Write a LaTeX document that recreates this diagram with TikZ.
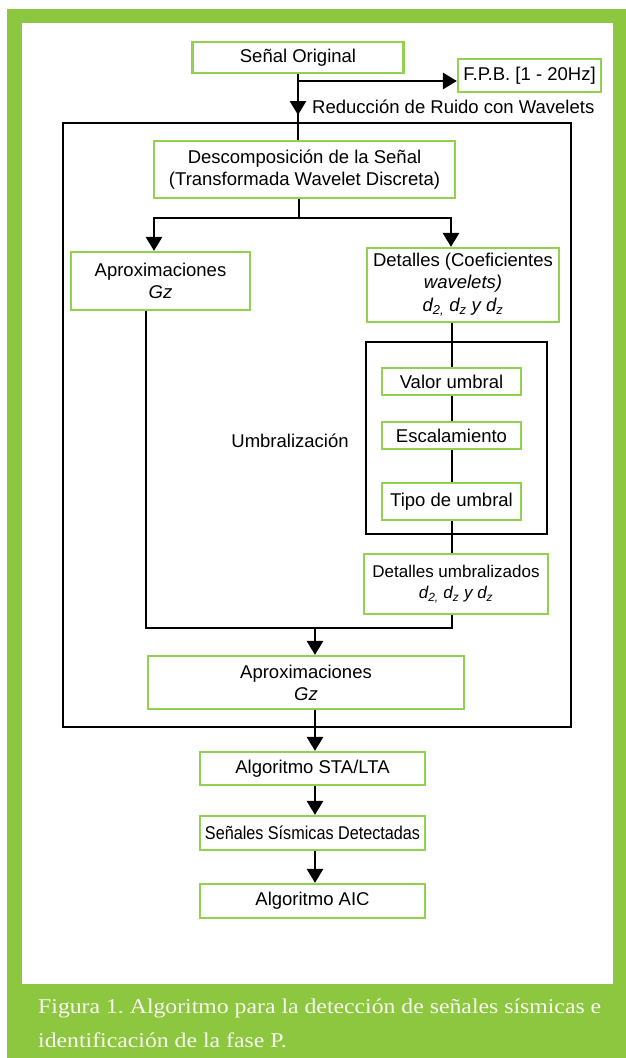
\documentclass[tikz,border=0pt]{standalone}
\usepackage{fontspec}
\setmainfont{Liberation Serif}
\setsansfont{Liberation Sans}
\usetikzlibrary{arrows.meta}
\definecolor{framegreen}{RGB}{141,198,63}
\definecolor{boxgreen}{RGB}{146,208,80}
\definecolor{captext}{RGB}{248,251,242}
\pgfdeclarelayer{framelayer}
\pgfdeclarelayer{linelayer}
\pgfsetlayers{framelayer,linelayer,main}
\newcommand\dfont{\sffamily\fontsize{18.5}{22}\selectfont}
\newcommand\sfont{\sffamily\fontsize{17}{21}\selectfont}
\newcommand\capfont{\rmfamily\fontsize{21}{25}\selectfont}
\newsavebox\capA
\newsavebox\capB
\newlength\capwd
\frenchspacing
\begin{document}
\sbox\capA{\color{captext}\capfont Figura 1. Algoritmo para la detección de señales sísmicas e}%
\sbox\capB{\color{captext}\capfont identificación de la fase P.}%
\setlength\capwd{\wd\capA}%
\pgfmathsetmacro\capsx{563/\capwd}%
\begin{tikzpicture}[x=1pt,y=-1pt,
  gbox/.style={draw=boxgreen, line width=2.2pt, fill=white, inner sep=0pt, align=center, font=\dfont},
  blackbox/.style={draw=black, line width=2.8pt, inner sep=0pt},
  conn/.style={draw=black, line width=2.8pt},
  arr/.style={conn, -{Triangle[width=16pt,length=14pt]}},
  lbl/.style={inner sep=0pt, font=\dfont}]
\useasboundingbox (0,0) rectangle (626,1058);
\begin{pgfonlayer}{framelayer}
  \fill[framegreen] (7,9) rectangle (626,1058);
  \fill[white] (22,23) rectangle (613,984);
\end{pgfonlayer}

% nodes
\node[gbox, minimum width=211pt, minimum height=31pt] (sig) at (298,57.5) {Señal Original};
\node[gbox, minimum width=143pt, minimum height=33pt] (fpb) at (529.5,75.5) {F.P.B. [1 - 20Hz]};
\node[lbl, anchor=base west] (red) at (312,113) {Reducción de Ruido con Wavelets};
\node[blackbox, minimum width=508pt, minimum height=604pt] (outer) at (317,425) {};
\node[gbox, minimum width=301pt, minimum height=57pt] (desc) at (304.5,169.5) {Descomposición de la Señal\\(Transformada Wavelet Discreta)};
\node[gbox, minimum width=179pt, minimum height=58pt] (apx1) at (160.5,281) {Aproximaciones\\\textit{Gz}};
\node[gbox, minimum width=192pt, minimum height=74pt] (det) at (463,285) {Detalles (Coeficientes\\\textit{wavelets)}\\[1pt]\textit{d\textsubscript{2,} d\textsubscript{z} y d\textsubscript{z}}};
\node[blackbox, minimum width=181pt, minimum height=192pt] (umb) at (456.5,438) {};
\node[lbl] (umblbl) at (290,441) {Umbralización};
\node[gbox, minimum width=139pt, minimum height=27pt] (val) at (451.5,381.5) {Valor umbral};
\node[gbox, minimum width=139pt, minimum height=27pt] (esc) at (451.5,435.5) {Escalamiento};
\node[gbox, minimum width=139pt, minimum height=37pt] (tipo) at (451.5,501.5) {Tipo de umbral};
\node[gbox, minimum width=184pt, minimum height=60pt, font=\sfont] (detu) at (456,584) {Detalles umbralizados\\\textit{d\textsubscript{2,} d\textsubscript{z} y d\textsubscript{z}}};
\node[gbox, minimum width=316pt, minimum height=53pt] (apx2) at (306,682.5) {Aproximaciones\\\textit{Gz}};
\node[gbox, minimum width=225pt, minimum height=33pt] (sta) at (312.5,768.5) {Algoritmo STA/LTA};
\node[gbox, minimum width=225pt, minimum height=34pt] (ssd) at (312.5,833) {\scalebox{0.875}[1]{Señales Sísmicas Detectadas}};
\node[gbox, minimum width=225pt, minimum height=34pt] (aic) at (312.5,901) {Algoritmo AIC};

% coordinates
\coordinate (br) at (298,81);
\coordinate (rt) at (298,115);
\coordinate (j1) at (299,218);
\coordinate (bl) at (154,218);
\coordinate (brr) at (451,218);
\coordinate (lb) at (146,628);
\coordinate (rb) at (452,628);
\coordinate (mb) at (315,628);

\begin{pgfonlayer}{linelayer}
  \draw[conn] (sig.south) -- (sig.south |- desc.north);
  \draw[arr] (sig.south) -- (rt);
  \draw[arr] (br) -- (br -| fpb.west);
  \draw[conn] (desc.south -| j1) -- (j1);
  \draw[arr] (j1) -| (bl |- apx1.north);
  \draw[arr] (j1) -| (brr |- det.north);
  \draw[conn] (det.south -| rb) -- (detu.north -| rb);
  \draw[conn] (apx1.south -| lb) -- (lb) -- (rb) -- (detu.south -| rb);
  \draw[arr] (mb) -- (apx2.north -| mb);
  \draw[arr] (apx2.south -| mb) -- (sta.north -| mb);
  \draw[arr] (sta.south -| mb) -- (ssd.north -| mb);
  \draw[arr] (ssd.south -| mb) -- (aic.north -| mb);
\end{pgfonlayer}

% caption
\node[anchor=base west, inner sep=0pt] (cap1) at (38,1013) {\scalebox{\capsx}[1]{\usebox\capA}};
\node[anchor=base west, inner sep=0pt] (cap2) at (38,1047) {\scalebox{\capsx}[1]{\usebox\capB}};
\end{tikzpicture}
\end{document}
